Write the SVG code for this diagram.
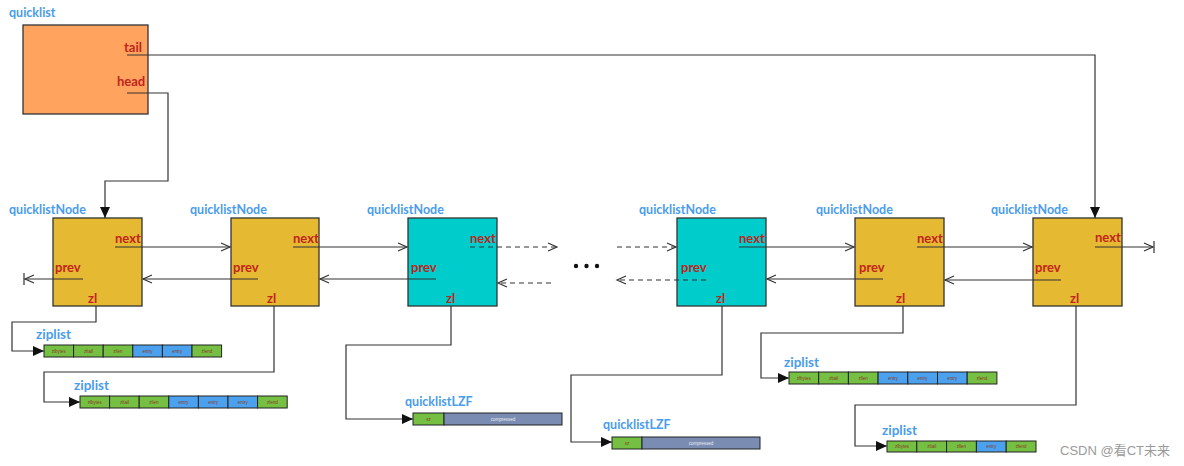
<svg xmlns="http://www.w3.org/2000/svg" width="1184" height="466" viewBox="0 0 1184 466">
<style>
.bg{fill:#ffffff}
.lbl{font-family:Lato,"Open Sans",sans-serif;font-weight:bold;font-size:12.5px;fill:#4a9cec}
.fld{font-family:Lato,"Open Sans",sans-serif;font-weight:bold;font-size:13px;fill:#c0251c}
.ql{fill:#ffa35f;stroke:#333;stroke-width:1.3}
.nd{fill:#e6b932;stroke:#333;stroke-width:1.3}
.cy{fill:#00cccc;stroke:#333;stroke-width:1.3}
.ln{fill:none;stroke:#333;stroke-width:1.2}
.ds{fill:none;stroke:#333;stroke-width:1.2;stroke-dasharray:5 4}
.g{fill:#75c043;stroke:#222;stroke-width:1}
.b{fill:#4ba1ee;stroke:#222;stroke-width:1}
.gr{fill:#7b8cb2;stroke:#222;stroke-width:1}
.ct{font-family:"Liberation Sans",Arial,sans-serif;font-size:4.5px;fill:#8a3a24;text-anchor:middle}
.ctw{font-family:"Liberation Sans",Arial,sans-serif;font-size:4.5px;fill:#e8ecf4;text-anchor:middle}
.wm{font-family:"Liberation Sans","Noto Sans CJK SC",sans-serif;font-size:13px;fill:#9a9a9a}
</style>
<defs>
<marker id="open" markerUnits="userSpaceOnUse" markerWidth="12" markerHeight="10" refX="10" refY="5" orient="auto">
<path d="M1,1 L10,5 L1,9" fill="none" stroke="#333" stroke-width="1.2"/>
</marker>
<marker id="fill" markerUnits="userSpaceOnUse" markerWidth="12" markerHeight="10" refX="11" refY="5" orient="auto">
<path d="M0,0 L11,5 L0,10 Z" fill="#111"/>
</marker>
</defs>
<rect class="bg" x="0" y="0" width="1184" height="466"/>

<g id="quicklist">
<text class="lbl" x="9" y="17">quicklist</text>
<rect class="ql" x="23" y="25" width="125" height="89"/>
<text class="fld" x="124" y="52">tail</text>
<text class="fld" x="117" y="86">head</text>
</g>

<g id="node1">
<text class="lbl" x="9" y="214">quicklistNode</text>
<rect class="nd" x="53" y="218" width="89" height="88"/>
<text class="fld" x="115" y="243">next</text>
<text class="fld" x="55" y="272">prev</text>
<text class="fld" x="88" y="303">zl</text>
</g>
<g id="node2">
<text class="lbl" x="190" y="214">quicklistNode</text>
<rect class="nd" x="231" y="218" width="88" height="88"/>
<text class="fld" x="293" y="243">next</text>
<text class="fld" x="233" y="272">prev</text>
<text class="fld" x="267" y="303">zl</text>
</g>
<g id="node3">
<text class="lbl" x="367" y="214">quicklistNode</text>
<rect class="cy" x="408" y="218" width="89" height="88"/>
<text class="fld" x="470" y="243">next</text>
<text class="fld" x="411" y="272">prev</text>
<text class="fld" x="446" y="303">zl</text>
</g>
<g id="ellipsis">
<circle cx="576" cy="266" r="2.2" fill="#111"/>
<circle cx="586.5" cy="266" r="2.2" fill="#111"/>
<circle cx="597" cy="266" r="2.2" fill="#111"/>
</g>
<g id="node4">
<text class="lbl" x="639" y="214">quicklistNode</text>
<rect class="cy" x="677" y="218" width="89" height="88"/>
<text class="fld" x="739" y="243">next</text>
<text class="fld" x="681" y="272">prev</text>
<text class="fld" x="716" y="303">zl</text>
</g>
<g id="node5">
<text class="lbl" x="816" y="214">quicklistNode</text>
<rect class="nd" x="855" y="218" width="89" height="88"/>
<text class="fld" x="917" y="243">next</text>
<text class="fld" x="859" y="272">prev</text>
<text class="fld" x="896" y="303">zl</text>
</g>
<g id="node6">
<text class="lbl" x="991" y="214">quicklistNode</text>
<rect class="nd" x="1033" y="218" width="89" height="88"/>
<text class="fld" x="1095" y="242">next</text>
<text class="fld" x="1035" y="272">prev</text>
<text class="fld" x="1070" y="303">zl</text>
</g>

<g id="ziplist1">
<text class="lbl" x="36" y="339" style="font-size:13.5px">ziplist</text>
<rect class="g" x="44" y="345" width="29.6" height="12"/><text class="ct" x="58.8" y="352.5">zlbytes</text>
<rect class="g" x="73.6" y="345" width="29.6" height="12"/><text class="ct" x="88.4" y="352.5">zltail</text>
<rect class="g" x="103.2" y="345" width="29.6" height="12"/><text class="ct" x="118" y="352.5">zllen</text>
<rect class="b" x="132.8" y="345" width="29.6" height="12"/><text class="ct" x="147.6" y="352.5">entry</text>
<rect class="b" x="162.4" y="345" width="29.6" height="12"/><text class="ct" x="177.2" y="352.5">entry</text>
<rect class="g" x="192" y="345" width="29.6" height="12"/><text class="ct" x="206.8" y="352.5">zlend</text>
</g>
<g id="ziplist2">
<text class="lbl" x="74" y="390" style="font-size:13.5px">ziplist</text>
<rect class="g" x="80" y="396" width="29.6" height="12"/><text class="ct" x="94.8" y="403.5">zlbytes</text>
<rect class="g" x="109.6" y="396" width="29.6" height="12"/><text class="ct" x="124.4" y="403.5">zltail</text>
<rect class="g" x="139.2" y="396" width="29.6" height="12"/><text class="ct" x="154" y="403.5">zllen</text>
<rect class="b" x="168.8" y="396" width="29.6" height="12"/><text class="ct" x="183.6" y="403.5">entry</text>
<rect class="b" x="198.4" y="396" width="29.6" height="12"/><text class="ct" x="213.2" y="403.5">entry</text>
<rect class="b" x="228" y="396" width="29.6" height="12"/><text class="ct" x="242.8" y="403.5">entry</text>
<rect class="g" x="257.6" y="396" width="29.6" height="12"/><text class="ct" x="272.4" y="403.5">zlend</text>
</g>
<g id="lzf1">
<text class="lbl" x="405" y="406">quicklistLZF</text>
<rect class="g" x="413" y="413" width="31" height="12"/><text class="ct" x="428.5" y="420.5">sz</text>
<rect class="gr" x="444" y="413" width="118" height="12"/><text class="ctw" x="503" y="420.5">compressed</text>
</g>
<g id="lzf2">
<text class="lbl" x="603" y="429">quicklistLZF</text>
<rect class="g" x="612" y="437" width="30" height="12"/><text class="ct" x="627" y="444.5">sz</text>
<rect class="gr" x="642" y="437" width="118" height="12"/><text class="ctw" x="701" y="444.5">compressed</text>
</g>
<g id="ziplist3">
<text class="lbl" x="784" y="367" style="font-size:13.5px">ziplist</text>
<rect class="g" x="789" y="372" width="29.7" height="12"/><text class="ct" x="803.8" y="379.5">zlbytes</text>
<rect class="g" x="818.7" y="372" width="29.7" height="12"/><text class="ct" x="833.5" y="379.5">zltail</text>
<rect class="g" x="848.4" y="372" width="29.7" height="12"/><text class="ct" x="863.2" y="379.5">zllen</text>
<rect class="b" x="878.1" y="372" width="29.7" height="12"/><text class="ct" x="892.9" y="379.5">entry</text>
<rect class="b" x="907.8" y="372" width="29.7" height="12"/><text class="ct" x="922.6" y="379.5">entry</text>
<rect class="b" x="937.5" y="372" width="29.7" height="12"/><text class="ct" x="952.3" y="379.5">entry</text>
<rect class="g" x="967.2" y="372" width="29.7" height="12"/><text class="ct" x="982" y="379.5">zlend</text>
</g>
<g id="ziplist4">
<text class="lbl" x="882" y="435" style="font-size:13.5px">ziplist</text>
<rect class="g" x="887" y="441" width="29.8" height="11"/><text class="ct" x="901.9" y="448">zlbytes</text>
<rect class="g" x="916.8" y="441" width="29.8" height="11"/><text class="ct" x="931.7" y="448">zltail</text>
<rect class="g" x="946.6" y="441" width="29.8" height="11"/><text class="ct" x="961.5" y="448">zllen</text>
<rect class="b" x="976.4" y="441" width="29.8" height="11"/><text class="ct" x="991.3" y="448">entry</text>
<rect class="g" x="1006.2" y="441" width="29.8" height="11"/><text class="ct" x="1021.1" y="448">zlend</text>
</g>

<g id="connectors">
<polyline class="ln" points="127,55 1095,55 1095,218" marker-end="url(#fill)"/>
<polyline class="ln" points="127,93 168,93 168,181 105,181 105,218" marker-end="url(#fill)"/>

<line class="ln" x1="115" y1="247" x2="230" y2="247" marker-end="url(#open)"/>
<line class="ln" x1="83" y1="279" x2="25" y2="279" marker-end="url(#open)"/>
<line class="ln" x1="24" y1="273" x2="24" y2="285"/>
<line class="ln" x1="258" y1="279" x2="143" y2="279" marker-end="url(#open)"/>
<line class="ln" x1="293" y1="247" x2="407" y2="247" marker-end="url(#open)"/>
<line class="ln" x1="436" y1="279" x2="320" y2="279" marker-end="url(#open)"/>
<line class="ds" x1="470" y1="247" x2="557" y2="247" marker-end="url(#open)"/>
<line class="ds" x1="551" y1="283" x2="498" y2="283" marker-end="url(#open)"/>
<line class="ds" x1="617" y1="247" x2="676" y2="247" marker-end="url(#open)"/>
<line class="ds" x1="706" y1="280" x2="617" y2="280" marker-end="url(#open)"/>
<line class="ln" x1="739" y1="247" x2="854" y2="247" marker-end="url(#open)"/>
<line class="ln" x1="883" y1="279" x2="767" y2="279" marker-end="url(#open)"/>
<line class="ln" x1="917" y1="247" x2="1032" y2="247" marker-end="url(#open)"/>
<line class="ln" x1="1061" y1="280" x2="945" y2="280" marker-end="url(#open)"/>
<line class="ln" x1="1095" y1="247" x2="1153" y2="247" marker-end="url(#open)"/>
<line class="ln" x1="1154" y1="241" x2="1154" y2="253"/>

<polyline class="ln" points="96,306 96,322 12,322 12,351 44,351" marker-end="url(#fill)"/>
<polyline class="ln" points="274,306 274,372 44,372 44,402 80,402" marker-end="url(#fill)"/>
<polyline class="ln" points="451,306 451,345 346,345 346,419 413,419" marker-end="url(#fill)"/>
<polyline class="ln" points="722,306 722,375 571,375 571,442 612,442" marker-end="url(#fill)"/>
<polyline class="ln" points="903,306 903,333 761,333 761,378 789,378" marker-end="url(#fill)"/>
<polyline class="ln" points="1076,306 1076,405 855,405 855,446 887,446" marker-end="url(#fill)"/>
</g>

<text class="wm" x="1060" y="455">CSDN @看CT未来</text>
</svg>
